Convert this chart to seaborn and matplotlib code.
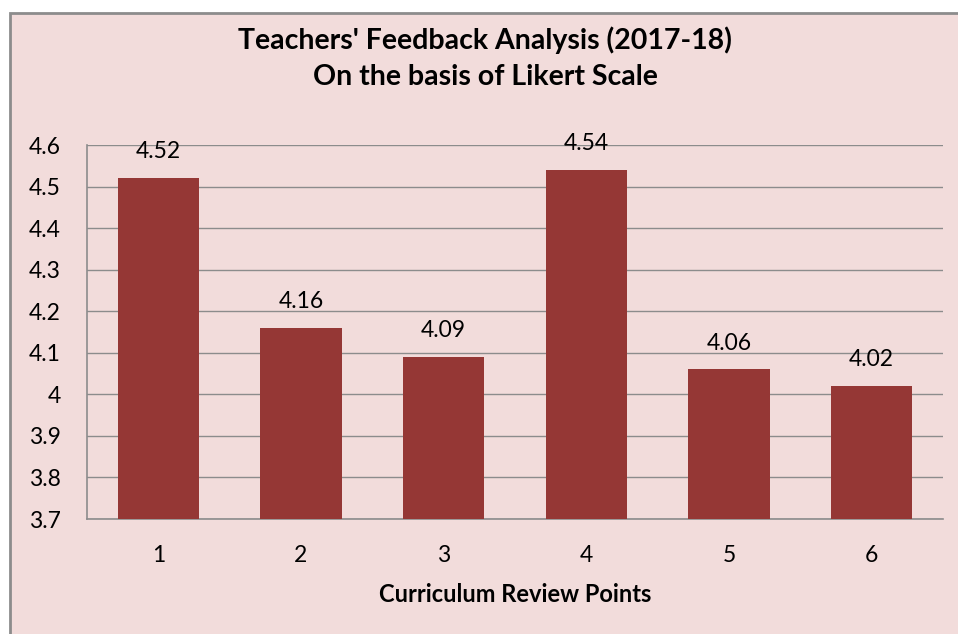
import matplotlib
matplotlib.use("Agg")
import matplotlib.pyplot as plt
import seaborn as sns
import pandas as pd
from matplotlib.patches import Rectangle

categories = ["1", "2", "3", "4", "5", "6"]
values = [4.52, 4.16, 4.09, 4.54, 4.06, 4.02]
yticks = [3.7, 3.8, 3.9, 4.0, 4.1, 4.2, 4.3, 4.4, 4.5, 4.6]
ytick_labels = ["3.7", "3.8", "3.9", "4", "4.1", "4.2", "4.3", "4.4", "4.5", "4.6"]
title = "Teachers' Feedback Analysis (2017-18)\nOn the basis of Likert Scale"
xlabel = "Curriculum Review Points"

sns.set_theme(style="white")
plt.rcParams['font.family'] = ['Lato', 'DejaVu Sans']
plt.rcParams['text.color'] = 'black'
plt.rcParams['xtick.color'] = 'black'
plt.rcParams['ytick.color'] = 'black'

bg = "#F2DCDB"
bar_color = "#953735"
grid_color = "#8C8C8C"

fig = plt.figure(figsize=(9.58, 6.34), dpi=100)
fig.patch.set_facecolor("white")
fig.patches.append(Rectangle((10/958, -0.1), 1.1, (634-13)/634 + 0.1, transform=fig.transFigure,
                             facecolor=bg, edgecolor="#8C8C8C", linewidth=2, zorder=-10))

ax = fig.add_axes([87/958, 1-519/634, (943-87)/958, (519-145)/634])
ax.set_facecolor(bg)
df = pd.DataFrame({"cat": categories, "val": values})
sns.barplot(data=df, x="cat", y="val", color=bar_color, saturation=1, width=0.57, ax=ax, zorder=3)
for p in ax.patches:
    p.set_edgecolor("none")

ax.set_ylim(3.7, 4.6)
ax.set_yticks(yticks)
ax.set_yticklabels(ytick_labels, fontsize=16.5)
ax.tick_params(axis='x', labelsize=16.5, pad=19, length=0, colors='black')
ax.tick_params(axis='y', pad=19, length=0, colors='black')
ax.yaxis.grid(True, color=grid_color, linewidth=1, zorder=0)
ax.set_axisbelow(True)
for s in ["top", "right"]:
    ax.spines[s].set_visible(False)
for s in ["left", "bottom"]:
    ax.spines[s].set_color(grid_color)
    ax.spines[s].set_linewidth(1.2)

for i, v in enumerate(values):
    ax.text(i, v + 0.038, f"{v:g}", ha="center", va="bottom", fontsize=16.5, color="black")

ax.set_xlabel(xlabel, fontsize=17, fontweight="bold", labelpad=12, color="black")
ax.set_ylabel("")
fig.text(485/958, 1-58/634, title, ha="center", va="center", fontsize=20.5, fontweight="bold",
         linespacing=1.45, color="black")

fig.savefig("out.png", dpi=100, facecolor=fig.get_facecolor())
